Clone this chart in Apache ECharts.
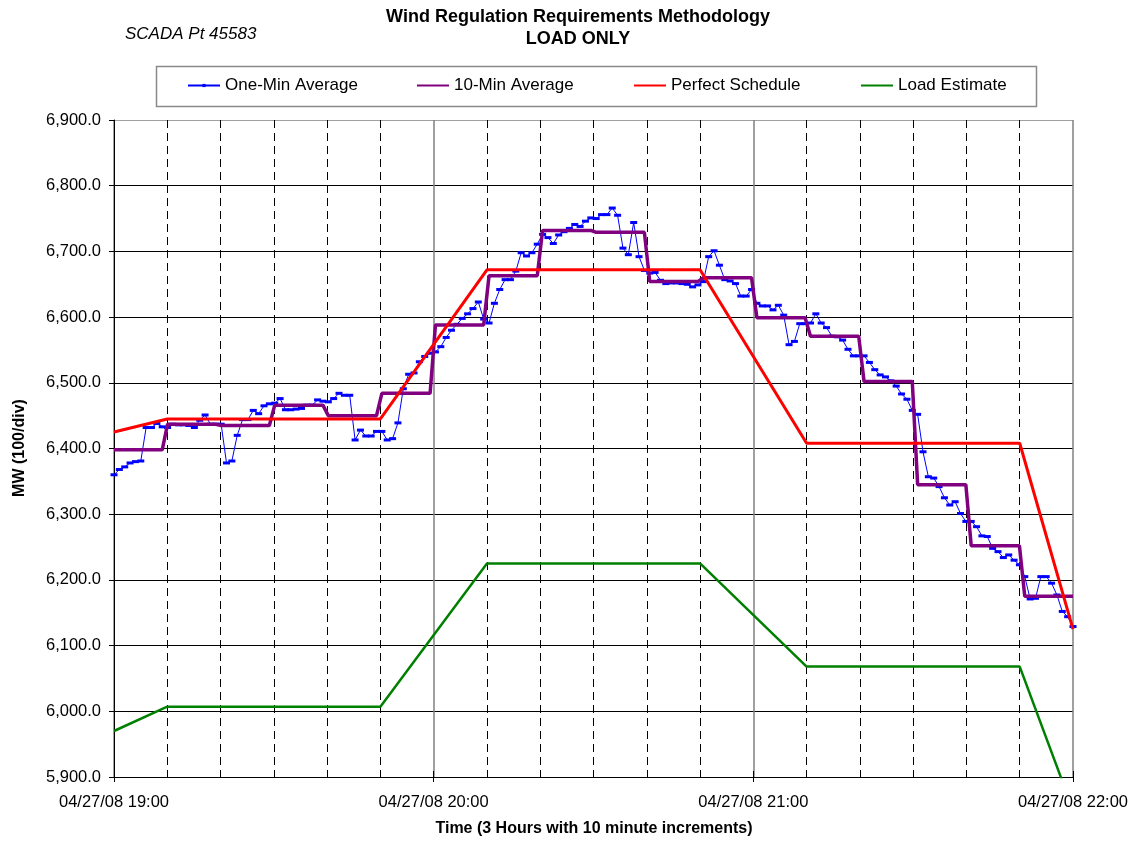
<!DOCTYPE html>
<html><head><meta charset="utf-8">
<script src="https://cdn.jsdelivr.net/npm/echarts@6/dist/echarts.min.js"></script>
<style>html,body{margin:0;padding:0;background:#fff}#c{width:1134px;height:841px}</style>
</head><body><div id="c"></div>
<script>
const FONT = "'Liberation Sans', Arial, sans-serif";

// One-minute averages, 19:00 .. 21:59 (180 samples)
const oneMin = [
  6360, 6368, 6372, 6378, 6380, 6381, 6432, 6432, 6438, 6433,
  6432, 6437, 6436, 6436, 6435, 6432, 6443, 6451, 6437, 6437,
  6437, 6378, 6381, 6420, 6444, 6444, 6458, 6453, 6465, 6468,
  6469, 6476, 6459, 6459, 6460, 6461, 6466, 6466, 6474, 6472,
  6471, 6476, 6484, 6481, 6481, 6413, 6428, 6419, 6419, 6426,
  6426, 6413, 6415, 6439, 6491, 6513, 6515, 6532, 6540, 6545,
  6547, 6555, 6569, 6580, 6589, 6598, 6605, 6613, 6623, 6597,
  6591, 6621, 6642, 6657, 6657, 6670, 6698, 6693, 6698, 6711,
  6726, 6721, 6712, 6725, 6730, 6735, 6741, 6738, 6746, 6751,
  6750, 6756, 6756, 6766, 6755, 6705, 6695, 6744, 6692, 6671,
  6667, 6668, 6656, 6651, 6652, 6652, 6651, 6650, 6646, 6649,
  6654, 6692, 6701, 6679, 6657, 6655, 6651, 6632, 6632, 6642,
  6621, 6617, 6617, 6611, 6618, 6603, 6558, 6563, 6590, 6590,
  6591, 6605, 6591, 6584, 6571, 6570, 6565, 6551, 6541, 6541,
  6541, 6531, 6520, 6512, 6509, 6503, 6495, 6483, 6475, 6458,
  6452, 6395, 6357, 6355, 6342, 6325, 6314, 6319, 6301, 6289,
  6289, 6281, 6267, 6266, 6248, 6243, 6234, 6238, 6230, 6223,
  6205, 6171, 6172, 6205, 6205, 6195, 6177, 6152, 6144, 6129
];

// 10-minute block averages (18 blocks)
const tenMinBlocks = [6398, 6437, 6435, 6466, 6450, 6484, 6588, 6663, 6732,
                      6729, 6654, 6660, 6599, 6571, 6502, 6345, 6252, 6175];

// Schedule breakpoints (minutes after 19:00)
const schedTimes = [0, 10, 50, 70, 110, 130, 170, 180];
const perfectSchedule = [6425, 6445, 6445, 6672, 6672, 6408, 6408, 6125];
const loadEstimate = [5970, 6007, 6007, 6225, 6225, 6068, 6068, 5850];

const xTickLabels = ['04/27/08 19:00', '04/27/08 20:00', '04/27/08 21:00', '04/27/08 22:00'];
const yTickLabels = ['5,900.0', '6,000.0', '6,100.0', '6,200.0', '6,300.0', '6,400.0',
                     '6,500.0', '6,600.0', '6,700.0', '6,800.0', '6,900.0'];
const seriesNames = ['One-Min Average', '10-Min Average', 'Perfect Schedule', 'Load Estimate'];

const oneMinData = oneMin.map((v, i) => [i, v]);
const tenMinData = [];
tenMinBlocks.forEach((v, k) => {
  tenMinData.push([k * 10, v]);
  tenMinData.push([Math.min(k * 10 + 9, oneMin.length - 1), v]);
});
const schedData = schedTimes.map((t, i) => [t, perfectSchedule[i]]);
const loadData = schedTimes.map((t, i) => [t, loadEstimate[i]]);

const gridColors = yTickLabels.map((_, i) => i === yTickLabels.length - 1 ? '#a0a0a0' : '#000000');

const chart = echarts.init(document.getElementById('c'));

function legendAt(name, left, showMarker) {
  const l = {
    data: [name], left: left, top: 77, padding: 0, itemWidth: 32, itemHeight: 4,
    selectedMode: false,
    textStyle: { fontFamily: FONT, fontSize: 17, color: '#000' }
  };
  if (!showMarker) l.itemStyle = { opacity: 0 };
  return l;
}

chart.setOption({
  animation: false,
  backgroundColor: '#fff',
  grid: { left: 114, right: 61, top: 120, bottom: 64, containLabel: false },
  legend: [
    legendAt(seriesNames[0], 187, true),
    legendAt(seriesNames[1], 416, false),
    legendAt(seriesNames[2], 633, false),
    legendAt(seriesNames[3], 860, false)
  ],
  graphic: [
    { type: 'rect', shape: { x: 156.5, y: 66.5, width: 880, height: 40 },
      style: { fill: 'none', stroke: '#8a8a8a', lineWidth: 1.5 }, z: 100 },
    { type: 'text', x: 578, y: 17, style: { text: 'Wind Regulation Requirements Methodology',
      textAlign: 'center', textVerticalAlign: 'middle', fontFamily: FONT, fontSize: 18, fontWeight: 'bold', fill: '#000' } },
    { type: 'text', x: 578, y: 39, style: { text: 'LOAD ONLY',
      textAlign: 'center', textVerticalAlign: 'middle', fontFamily: FONT, fontSize: 18, fontWeight: 'bold', fill: '#000' } },
    { type: 'text', x: 125, y: 34, style: { text: 'SCADA Pt 45583',
      textAlign: 'left', textVerticalAlign: 'middle', fontFamily: FONT, fontSize: 17, fontStyle: 'italic', fill: '#000' } },
    { type: 'text', x: 594, y: 829, style: { text: 'Time (3 Hours with 10 minute increments)',
      textAlign: 'center', textVerticalAlign: 'middle', fontFamily: FONT, fontSize: 16, fontWeight: 'bold', fill: '#000' } },
    { type: 'text', x: 20, y: 448, rotation: Math.PI / 2, style: { text: 'MW (100/div)',
      textAlign: 'center', textVerticalAlign: 'middle', fontFamily: FONT, fontSize: 16, fontWeight: 'bold', fill: '#000' } }
  ],
  xAxis: [
    { // minutes axis with labels, hour gridlines and 10-min dashed lines
      type: 'value', position: 'bottom', min: 0, max: 180, interval: 60,
      axisLine: { show: true, onZero: false, lineStyle: { color: '#000', width: 1 } },
      axisTick: { show: true, inside: false, length: 5, lineStyle: { color: '#000' } },
      axisLabel: { show: true, margin: 17, fontFamily: FONT, fontSize: 16.5, color: '#000',
        formatter: v => xTickLabels[Math.round(v / 60)] },
      splitLine: { show: true, lineStyle: { color: '#808080', width: 1.5 } },
      minorTick: { show: false, splitNumber: 6 },
      minorSplitLine: { show: true, lineStyle: { color: '#000', width: 1, type: [8, 5] } }
    },
    { // inside ticks every 10 minutes
      type: 'value', position: 'bottom', min: 0, max: 180, interval: 10,
      axisLine: { show: false, onZero: false },
      axisTick: { show: true, inside: true, length: 6, lineStyle: { color: '#000' } },
      axisLabel: { show: false }, splitLine: { show: false }
    },
    { // sample index axis for one-minute data
      type: 'value', position: 'bottom', min: 0, max: oneMin.length - 1, show: false,
      axisLine: { onZero: false }, splitLine: { show: false }
    }
  ],
  yAxis: {
    type: 'value', min: 5900, max: 6900, interval: 100,
    axisLine: { show: true, lineStyle: { color: '#000', width: 1 } },
    axisTick: { show: true, inside: false, length: 5, lineStyle: { color: '#000' } },
    axisLabel: { margin: 13, fontFamily: FONT, fontSize: 16.5, color: '#000',
      formatter: v => yTickLabels[Math.round((v - 5900) / 100)] },
    splitLine: { show: true, lineStyle: { color: gridColors, width: 1 } }
  },
  series: [
    { name: seriesNames[0], type: 'line', xAxisIndex: 2, data: oneMinData,
      symbol: 'rect', symbolSize: [7, 3], showAllSymbol: true,
      lineStyle: { color: '#0000ff', width: 1 }, itemStyle: { color: '#0000ff' }, z: 3 },
    { name: seriesNames[1], type: 'line', xAxisIndex: 2, data: tenMinData,
      symbol: 'none', lineStyle: { color: '#800080', width: 3.5 }, itemStyle: { color: '#800080' }, z: 4 },
    { name: seriesNames[2], type: 'line', xAxisIndex: 0, data: schedData,
      symbol: 'none', lineStyle: { color: '#ff0000', width: 3 }, itemStyle: { color: '#ff0000' }, z: 5 },
    { name: seriesNames[3], type: 'line', xAxisIndex: 0, data: loadData, clip: true,
      symbol: 'none', lineStyle: { color: '#008000', width: 2.5 }, itemStyle: { color: '#008000' }, z: 6 }
  ]
});
</script>
</body></html>
